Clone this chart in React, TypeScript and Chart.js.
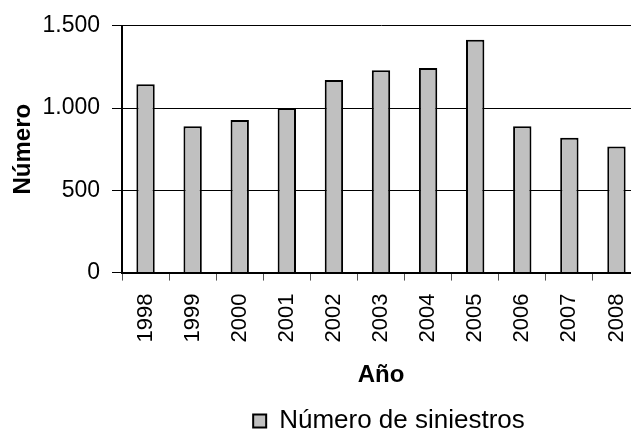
import React, { useEffect, useRef } from "react";
import { Chart, registerables } from "chart.js";

Chart.register(...registerables);

const categories = ["1998", "1999", "2000", "2001", "2002", "2003", "2004", "2005", "2006", "2007", "2008"];
const siniestros = [1145, 890, 927, 1000, 1170, 1230, 1243, 1415, 890, 820, 767];
const yTicks = [0, 500, 1000, 1500];
const yTickLabels = ["0", "500", "1.000", "1.500"];
const seriesName = "Número de siniestros";
const xTitle = "Año";
const yTitle = "Número";

const FONT = "'Liberation Sans', Arial, Helvetica, sans-serif";

const legendShift = {
  id: "legendShift",
  afterLayout(chart: any) {
    const lg = chart.legend;
    if (lg) {
      lg.left += 8;
      lg.right += 8;
    }
  },
};

export default function App() {
  const ref = useRef<HTMLCanvasElement | null>(null);
  useEffect(() => {
    if (!ref.current) return;
    const chart = new Chart(ref.current, {
      type: "bar",
      data: {
        labels: categories,
        datasets: [
          {
            label: seriesName,
            data: siniestros,
            backgroundColor: "#c0c0c0",
            borderColor: "#000000",
            borderWidth: 2,
            barPercentage: 0.39,
            categoryPercentage: 1,
          },
        ],
      },
      plugins: [legendShift],
      options: {
        animation: false,
        responsive: false,
        maintainAspectRatio: false,
        devicePixelRatio: 1,
        layout: { padding: { top: 25.7, left: 0, right: 0, bottom: 0 } },
        plugins: {
          tooltip: { enabled: false },
          legend: {
            position: "bottom",
            fullSize: false,
            labels: {
              boxWidth: 13,
              boxHeight: 13,
              padding: 4,
              color: "#000",
              font: { family: FONT, size: 26 },
            },
          },
        },
        scales: {
          x: {
            type: "category",
            offset: true,
            grid: {
              offset: true,
              drawOnChartArea: false,
              drawTicks: true,
              tickLength: 8,
              color: "#555",
              lineWidth: 1,
            },
            border: { display: true, color: "#000", width: 2 },
            ticks: {
              autoSkip: false,
              minRotation: 90,
              maxRotation: 90,
              padding: 13,
              color: "#000",
              font: { family: FONT, size: 22 },
            },
            title: {
              display: true,
              text: xTitle,
              color: "#000",
              font: { family: FONT, size: 24, weight: "bold" },
              padding: { top: 0, bottom: 14.6 },
            },
            afterFit(scale: any) {
              scale.height = 131.4;
              scale.paddingLeft = 0;
              scale.paddingRight = 0;
            },
          },
          y: {
            min: 0,
            max: 1500,
            afterBuildTicks(scale: any) {
              scale.ticks = yTicks.map((v) => ({ value: v }));
            },
            grid: {
              color: "#000",
              lineWidth: 1,
              drawTicks: true,
              tickLength: 10,
            },
            border: { display: true, color: "#000", width: 2 },
            ticks: {
              padding: 12,
              color: "#000",
              font: { family: FONT, size: 23 },
              callback: (v: any) => {
                const i = yTicks.indexOf(Number(v));
                return i >= 0 ? yTickLabels[i] : "";
              },
            },
            title: {
              display: true,
              text: yTitle,
              color: "#000",
              font: { family: FONT, size: 24, weight: "bold" },
              padding: { top: 8.5, bottom: 0 },
            },
            afterFit(scale: any) {
              scale.width = 122;
            },
          },
        },
      },
    });
    return () => chart.destroy();
  }, []);

  return (
    <div
      style={{
        position: "absolute",
        left: 0,
        top: 0,
        width: 631,
        height: 430,
        overflow: "hidden",
        background: "#fff",
      }}
    >
      <canvas ref={ref} width={640} height={444} style={{ display: "block" }} />
    </div>
  );
}
